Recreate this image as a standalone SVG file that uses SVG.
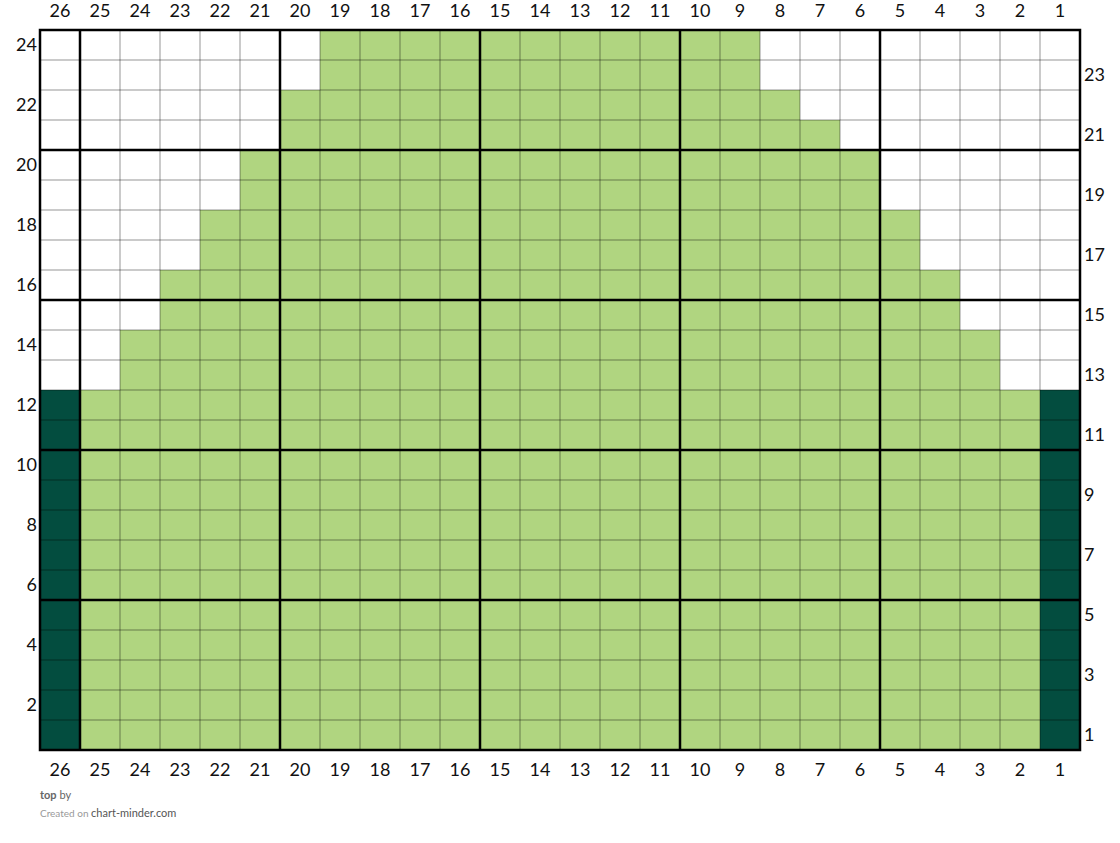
<svg xmlns="http://www.w3.org/2000/svg" width="1120" height="843" viewBox="0 0 1120 843">
<defs>
<style>
.lt{fill:#b0d580}
.dk{fill:#034d3f}
.thin{stroke:#000;stroke-opacity:0.42;stroke-width:1;fill:none}
.thick{stroke:#000;stroke-width:2.5;fill:none}
.num{font-family:Lato,"Liberation Sans",sans-serif;font-size:18px;fill:#111}
.c{text-anchor:middle}
.r{text-anchor:end}
.ft{font-family:Lato,"Liberation Sans",sans-serif}
</style>
<pattern id="grid" x="40" y="30" width="40" height="30" patternUnits="userSpaceOnUse">
<path d="M0 0H40M0 0V30" stroke="#000" stroke-opacity="0.42" stroke-width="1" fill="none"/>
</pattern>
</defs>
<rect width="1120" height="843" fill="#fff"/>
<g id="fills">
<rect class="lt" x="320" y="30" width="440" height="60"/>
<rect class="lt" x="280" y="90" width="520" height="30"/>
<rect class="lt" x="280" y="120" width="560" height="30"/>
<rect class="lt" x="240" y="150" width="640" height="60"/>
<rect class="lt" x="200" y="210" width="720" height="60"/>
<rect class="lt" x="160" y="270" width="800" height="60"/>
<rect class="lt" x="120" y="330" width="880" height="60"/>
<rect class="lt" x="80" y="390" width="960" height="360"/>
<rect class="dk" x="40" y="390" width="40" height="360"/>
<rect class="dk" x="1040" y="390" width="40" height="360"/>
</g>
<g id="grid-thin" class="thin">
<path d="M80 30V750M120 30V750M160 30V750M200 30V750M240 30V750M280 30V750M320 30V750M360 30V750M400 30V750M440 30V750M480 30V750M520 30V750M560 30V750M600 30V750M640 30V750M680 30V750M720 30V750M760 30V750M800 30V750M840 30V750M880 30V750M920 30V750M960 30V750M1000 30V750M1040 30V750"/>
<path d="M40 60H1080M40 90H1080M40 120H1080M40 150H1080M40 180H1080M40 210H1080M40 240H1080M40 270H1080M40 300H1080M40 330H1080M40 360H1080M40 390H1080M40 420H1080M40 450H1080M40 480H1080M40 510H1080M40 540H1080M40 570H1080M40 600H1080M40 630H1080M40 660H1080M40 690H1080M40 720H1080"/>
</g>
<g id="grid-thick" class="thick">
<path d="M80 30V750M280 30V750M480 30V750M680 30V750M880 30V750"/>
<path d="M40 150H1080M40 300H1080M40 450H1080M40 600H1080"/>
<rect x="40" y="30" width="1040" height="720"/>
</g>
<g id="col-labels-top" class="num c">
<text x="60" y="17">26</text><text x="100" y="17">25</text><text x="140" y="17">24</text><text x="180" y="17">23</text><text x="220" y="17">22</text><text x="260" y="17">21</text><text x="300" y="17">20</text><text x="340" y="17">19</text><text x="380" y="17">18</text><text x="420" y="17">17</text><text x="460" y="17">16</text><text x="500" y="17">15</text><text x="540" y="17">14</text><text x="580" y="17">13</text><text x="620" y="17">12</text><text x="660" y="17">11</text><text x="700" y="17">10</text><text x="740" y="17">9</text><text x="780" y="17">8</text><text x="820" y="17">7</text><text x="860" y="17">6</text><text x="900" y="17">5</text><text x="940" y="17">4</text><text x="980" y="17">3</text><text x="1020" y="17">2</text><text x="1060" y="17">1</text>
</g>
<g id="col-labels-bottom" class="num c">
<text x="60" y="776">26</text><text x="100" y="776">25</text><text x="140" y="776">24</text><text x="180" y="776">23</text><text x="220" y="776">22</text><text x="260" y="776">21</text><text x="300" y="776">20</text><text x="340" y="776">19</text><text x="380" y="776">18</text><text x="420" y="776">17</text><text x="460" y="776">16</text><text x="500" y="776">15</text><text x="540" y="776">14</text><text x="580" y="776">13</text><text x="620" y="776">12</text><text x="660" y="776">11</text><text x="700" y="776">10</text><text x="740" y="776">9</text><text x="780" y="776">8</text><text x="820" y="776">7</text><text x="860" y="776">6</text><text x="900" y="776">5</text><text x="940" y="776">4</text><text x="980" y="776">3</text><text x="1020" y="776">2</text><text x="1060" y="776">1</text>
</g>
<g id="row-labels-left" class="num r">
<text x="37" y="51">24</text><text x="37" y="111">22</text><text x="37" y="171">20</text><text x="37" y="231">18</text><text x="37" y="291">16</text><text x="37" y="351">14</text><text x="37" y="411">12</text><text x="37" y="471">10</text><text x="37" y="531">8</text><text x="37" y="591">6</text><text x="37" y="651">4</text><text x="37" y="711">2</text>
</g>
<g id="row-labels-right" class="num">
<text x="1084" y="81">23</text><text x="1084" y="141">21</text><text x="1084" y="201">19</text><text x="1084" y="261">17</text><text x="1084" y="321">15</text><text x="1084" y="381">13</text><text x="1084" y="441">11</text><text x="1084" y="501">9</text><text x="1084" y="561">7</text><text x="1084" y="621">5</text><text x="1084" y="681">3</text><text x="1084" y="741">1</text>
</g>
<g id="footer" class="ft">
<text x="40" y="799" font-size="11" fill="#666"><tspan font-weight="bold">top</tspan> by</text>
<text x="40" y="817" font-size="10" fill="#999">Created on <tspan fill="#555" font-size="11">chart-minder.com</tspan></text>
</g>
</svg>
